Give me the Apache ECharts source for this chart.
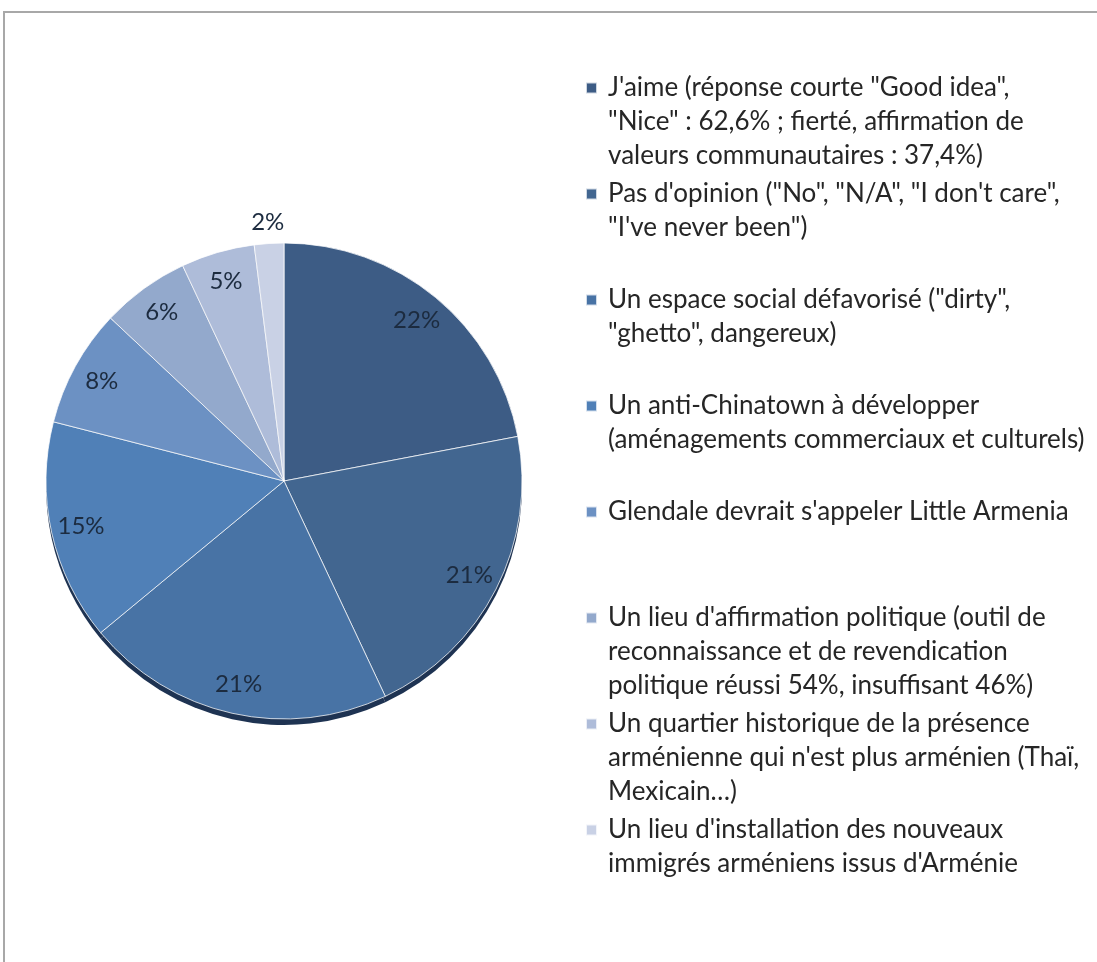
<!DOCTYPE html>
<html><head><meta charset="utf-8">
<script src="https://cdn.jsdelivr.net/npm/echarts@6/dist/echarts.min.js"></script>
<style>html,body{margin:0;padding:0;background:#fff}#c{width:1097px;height:962px}</style>
</head><body><div id="c"></div>
<script>
const categories = [
  "J'aime (réponse courte \"Good idea\",\n\"Nice\" : 62,6% ; fierté, affirmation de\nvaleurs communautaires : 37,4%)",
  "Pas d'opinion (\"No\", \"N/A\", \"I don't care\",\n\"I've never been\")",
  "Un espace social défavorisé (\"dirty\",\n\"ghetto\", dangereux)",
  "Un anti-Chinatown à développer\n(aménagements commerciaux et culturels)",
  "Glendale devrait s'appeler Little Armenia",
  "Un lieu d'affirmation politique (outil de\nreconnaissance et de revendication\npolitique réussi 54%, insuffisant 46%)",
  "Un quartier historique de la présence\narménienne qui n'est plus arménien (Thaï,\nMexicain…)",
  "Un lieu d'installation des nouveaux\nimmigrés arméniens issus d'Arménie"
];
const values = [22, 21, 21, 15, 8, 6, 5, 2];
const colors = ['#3d5c85', '#426690', '#4873a5', '#5080b7', '#6c91c3', '#93a9cc', '#aebcd9', '#c9d1e5'];

const CX = 284, CY = 481, R = 238;
const LH = 34, FONT = 'Lato', FS = 26, LFS = 24;
const LABEL_COLOR = '#1c2b3f';

const legends = categories.map((name, i) => {
  const n = name.split('\n').length;
  const m = 2 * n - 1;
  const c = 88 + i * 106;
  return {
    orient: 'vertical', left: 585, top: c - m * LH / 2, padding: 0,
    itemWidth: 11, itemHeight: 11, icon: 'rect', selectedMode: false,
    data: [name],
    formatter: nm => '\n'.repeat(n - 1) + nm,
    textStyle: { fontFamily: FONT, fontSize: FS, lineHeight: LH, color: '#262626',
      padding: [0, 0, 0, 6], backgroundColor: 'rgba(0,0,0,0)' }
  };
});

const mainData = categories.map((name, i) => ({ name, value: values[i], itemStyle: { color: colors[i] } }));
const shadowData = categories.map((name, i) => ({ name, value: values[i] }));
const ringA = categories.map((name, i) => ({ name, value: values[i], label: { show: i < categories.length - 1 } }));
const ringB = categories.map((name, i) => ({ name, value: values[i], label: { show: i === categories.length - 1 } }));

const labelStyle = { position: 'inside', formatter: '{c}%', color: LABEL_COLOR, fontFamily: FONT, fontSize: LFS };
const transparentItem = { color: 'rgba(0,0,0,0)', borderWidth: 0 };

const option = {
  backgroundColor: '#ffffff',
  animation: false,
  legend: legends,
  graphic: [{ type: 'rect', silent: true, shape: { x: 4, y: 12, width: 1300, height: 1100 },
    style: { fill: 'none', stroke: '#a8a8a8', lineWidth: 2 } }],
  series: [
    { type: 'pie', z: 2, center: [CX, CY], radius: R, startAngle: 90, clockwise: true,
      data: mainData, label: { show: false }, labelLine: { show: false },
      itemStyle: { borderColor: 'rgba(255,255,255,0.75)', borderWidth: 1 },
      emphasis: { disabled: true } },
    { type: 'pie', z: 1, silent: true, center: [CX, CY + 6], radius: R, startAngle: 90,
      data: shadowData, label: { show: false }, labelLine: { show: false },
      itemStyle: { color: '#1e3352', borderWidth: 0 }, emphasis: { disabled: true } },
    { type: 'pie', z: 3, silent: true, center: [CX, CY], radius: [166, 244], startAngle: 90,
      data: ringA, label: labelStyle, labelLine: { show: false },
      itemStyle: transparentItem, emphasis: { disabled: true } },
    { type: 'pie', z: 3, silent: true, center: [CX, CY], radius: [240, 272], startAngle: 90,
      data: ringB, label: labelStyle, labelLine: { show: false },
      itemStyle: transparentItem, emphasis: { disabled: true } }
  ]
};
const chart = echarts.init(document.getElementById('c'));
chart.setOption(option);
</script></body></html>
